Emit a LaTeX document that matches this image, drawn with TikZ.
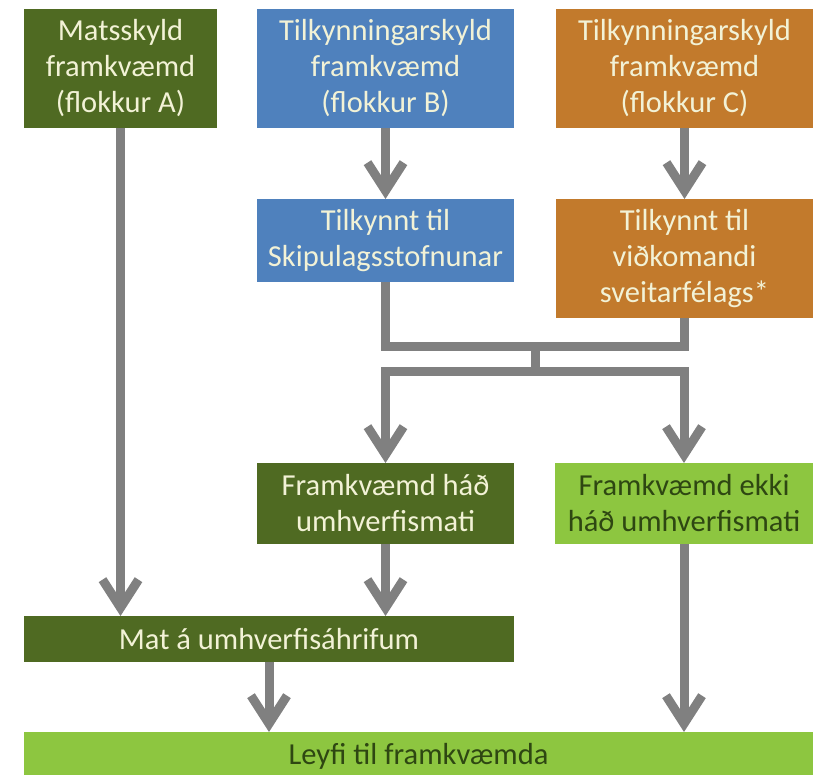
\documentclass[tikz,border=0pt]{standalone}
\usepackage{fontspec}
\setmainfont{Carlito}
\usetikzlibrary{arrows.meta}
\definecolor{dkgreen}{HTML}{4F6A22}
\definecolor{ltgreen}{HTML}{8DC640}
\definecolor{bblue}{HTML}{4F81BD}
\definecolor{borange}{HTML}{C27A2C}
\definecolor{cream}{HTML}{F2F2D6}
\definecolor{txtgreen}{HTML}{2E4712}
\definecolor{conn}{HTML}{808080}
\tikzset{
  box/.style={draw=none, inner sep=0pt, outer sep=0pt, align=center,
    font=\fontsize{30.5}{36}\selectfont, text=cream},
  dark/.style={box, fill=dkgreen},
  light/.style={box, fill=ltgreen, text=txtgreen},
  bluebox/.style={box, fill=bblue},
  orangebox/.style={box, fill=borange},
  conline/.style={draw=conn, line width=9pt, line join=miter},
  conarrow/.style={conline, -{Straight Barb[length=28pt,width=36pt]}},
}
\begin{document}
\begin{tikzpicture}[x=1pt,y=-1pt]
\useasboundingbox (0,0) rectangle (823,775);
\begin{scope}
\clip (0,0) rectangle (823,775);
\node[dark, minimum width=193pt, minimum height=119pt] (A) at (120.5,68.5) {Matsskyld\\framkvæmd\\(flokkur A)};
\node[bluebox, minimum width=257pt, minimum height=119pt] (B) at (385.5,68.5) {Tilkynningarskyld\\framkvæmd\\(flokkur B)};
\node[orangebox, minimum width=257pt, minimum height=119pt] (C) at (684.5,68.5) {Tilkynningarskyld\\framkvæmd\\(flokkur C)};
\node[bluebox, minimum width=257pt, minimum height=83pt] (B2) at (385.5,240.5) {Tilkynnt til\\Skipulagsstofnunar};
\node[orangebox, minimum width=257pt, minimum height=119pt] (C2) at (684.5,258.5) {Tilkynnt til\\viðkomandi\\sveitarfélags*};
\node[dark, minimum width=257pt, minimum height=81pt] (D) at (385.5,503.5) {Framkvæmd háð\\umhverfismati};
\node[light, minimum width=258pt, minimum height=81pt] (E) at (684,503.5) {Framkvæmd ekki\\háð umhverfismati};
\node[dark, minimum width=490pt, minimum height=46pt] (F) at (269,639) {Mat á umhverfisáhrifum};
\node[light, minimum width=789pt, minimum height=48pt] (G) at (418.5,756) {Leyfi til framkvæmda};

\coordinate (j1) at (535,347);
\coordinate (j2) at (535,372);

\draw[conarrow] (A.south) -- (A.south |- F.north);
\draw[conarrow] (B.south) -- (B2.north);
\draw[conarrow] (C.south) -- (C2.north);
\draw[conline] (B2.south) -- (B2.south |- j1) -- (C2.south |- j1) -- (C2.south);
\draw[conline] (j1) -- (j2);
\draw[conarrow] (j2) -| (D.north);
\draw[conarrow] (j2) -| (E.north);
\draw[conarrow] (D.south) -- (D.south |- F.north);
\draw[conarrow] (F.south) -- (F.south |- G.north);
\draw[conarrow] (E.south) -- (E.south |- G.north);
\end{scope}
\end{tikzpicture}
\end{document}
